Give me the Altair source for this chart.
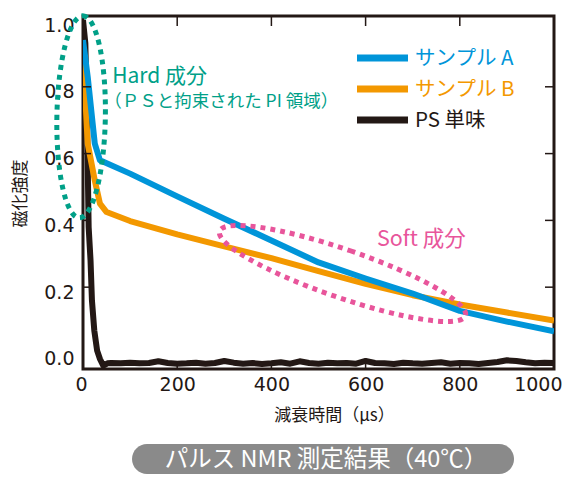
import altair as alt
import pandas as pd

# ---------------- data ----------------
series_names = ["サンプル A", "サンプル B", "PS 単味"]
series_colors = ["#0095d9", "#f39800", "#231815"]

a_x = [0, 10, 25, 36, 100, 200, 300, 400, 500, 600, 700, 800, 900, 1000]
a_y = [0.94, 0.83, 0.63, 0.58, 0.54, 0.472, 0.405, 0.34, 0.274, 0.226, 0.181, 0.129, 0.097, 0.068]

b_x = [0, 10, 25, 36, 50, 100, 200, 300, 400, 500, 600, 700, 800, 900, 1000]
b_y = [0.9, 0.63, 0.52, 0.45, 0.425, 0.398, 0.358, 0.322, 0.287, 0.248, 0.21, 0.176, 0.148, 0.124, 0.1]

ps_x = [0, 5, 9, 12, 16, 19, 24, 30, 36, 43, 52,
        60, 80, 100, 120, 140, 160, 180, 200, 220, 240, 260, 280, 300, 320, 340, 360, 380, 400,
        420, 440, 460, 480, 500, 520, 540, 560, 580, 600, 620, 640, 660, 680, 700, 720, 740, 760,
        780, 800, 820, 840, 860, 880, 900, 920, 940, 960, 980, 1000]
ps_y = [1.0, 0.93, 0.66, 0.38, 0.28, 0.16, 0.07, 0.01, -0.015, -0.035, -0.028,
        -0.027, -0.028, -0.026, -0.028, -0.027, -0.022, -0.027, -0.029, -0.028, -0.026, -0.029,
        -0.027, -0.021, -0.026, -0.029, -0.027, -0.03, -0.028, -0.025, -0.029, -0.022, -0.027,
        -0.029, -0.026, -0.028, -0.027, -0.029, -0.021, -0.027, -0.028, -0.03, -0.026, -0.028,
        -0.029, -0.027, -0.025, -0.029, -0.027, -0.028, -0.03, -0.027, -0.024, -0.019, -0.021,
        -0.025, -0.028, -0.026, -0.027]

x_axis_values = [0, 200, 400, 600, 800, 1000]
y_axis_values = [0.0, 0.2, 0.4, 0.6, 0.8, 1.0]
x_inner_ticks = [200, 400, 600, 800]
y_inner_ticks = [0.2, 0.4, 0.6, 0.8]

x_title = "減衰時間（μs）"
y_title = "磁化強度"
hard_label = "Hard 成分"
hard_sub = "（ＰＳと拘束された PI 領域）"
soft_label = "Soft 成分"
banner_text = "パルス NMR 測定結果（40℃）"

# ---------------- style ----------------
W, H = 471, 353
INK = "#231815"
TEAL = "#00a088"
PINK = "#e8559b"
JP = "Noto Sans CJK JP"
NUM = "DejaVu Sans"

xs = alt.Scale(domain=[0, 1000], nice=False, zero=False)
ys = alt.Scale(domain=[-0.045, 1.012], nice=False, zero=False)

x_axis = alt.Axis(values=x_axis_values, format="d", grid=False, ticks=False, domain=False,
                  labelFont=NUM, labelFontSize=19, labelColor=INK, labelPadding=6,
                  labelFlush=True, labelFlushOffset=8,
                  title=x_title, titleFont=JP, titleFontSize=17, titleFontWeight="normal",
                  titleColor=INK, titleX=251, titleY=46, titleBaseline="middle", titleAlign="center")
y_axis = alt.Axis(values=y_axis_values, format=".1f", grid=False, ticks=False, domain=False,
                  labelFont=NUM, labelFontSize=19, labelColor=INK, labelPadding=9, labelOffset=5,
                  title=y_title, titleFont=JP, titleFontSize=17, titleFontWeight="normal",
                  titleColor=INK, titleAngle=270, titleX=-63, titleY=177,
                  titleBaseline="middle", titleAlign="center")


def X(field="x"):
    return alt.X(f"{field}:Q", scale=xs, axis=x_axis)


def Y(field="y"):
    return alt.Y(f"{field}:Q", scale=ys, axis=y_axis)


def XD(v):
    return alt.XDatum(v, scale=xs, axis=x_axis, type="quantitative")


def YD(v):
    return alt.YDatum(v, scale=ys, axis=y_axis, type="quantitative")


def line_layer(xv, yv, color):
    df = pd.DataFrame({"x": xv, "y": yv})
    return alt.Chart(df).mark_line(color=color, strokeWidth=6, strokeJoin="round",
                                   strokeCap="butt", clip=True).encode(x=X(), y=Y())


ps_line = line_layer(ps_x, ps_y, series_colors[2])
b_line = line_layer(b_x, b_y, series_colors[1])
a_line = line_layer(a_x, a_y, series_colors[0])

# inner ticks on all four sides
ytick_df = pd.DataFrame({"y": y_inner_ticks})
xtick_df = pd.DataFrame({"x": x_inner_ticks})
tick_style = dict(color=INK, strokeWidth=1.5)
yt_left = alt.Chart(ytick_df).mark_rule(**tick_style).encode(y=Y(), x=alt.value(0), x2=alt.value(8))
yt_right = alt.Chart(ytick_df).mark_rule(**tick_style).encode(y=Y(), x=alt.value(W - 9), x2=alt.value(W))
xt_top = alt.Chart(xtick_df).mark_rule(**tick_style).encode(x=X(), y=alt.value(0), y2=alt.value(10))
xt_bot = alt.Chart(xtick_df).mark_rule(**tick_style).encode(x=X(), y=alt.value(H - 7), y2=alt.value(H))


def ellipse_path(a, b):
    k = 0.5523
    return (f"M0,{-b} C{k*a:.4f},{-b} {a},{-k*b:.4f} {a},0 "
            f"C{a},{k*b:.4f} {k*a:.4f},{b} 0,{b} "
            f"C{-k*a:.4f},{b} {-a},{k*b:.4f} {-a},0 "
            f"C{-a},{-k*b:.4f} {-k*a:.4f},{-b} 0,{-b} Z")


base = alt.Chart(pd.DataFrame({"d": [0]}))

hard_ellipse = base.mark_point(shape=ellipse_path(0.24, 1.0), filled=False, stroke=TEAL,
                               strokeWidth=5, strokeDash=[5, 5], size=202 ** 2, opacity=1,
                               angle=1).encode(x=XD(-4), y=YD(0.71))
soft_ellipse = base.mark_point(shape=ellipse_path(1.0, 0.185), filled=False, stroke=PINK,
                               strokeWidth=5, strokeDash=[5, 5], size=260 ** 2, opacity=1,
                               angle=19).encode(x=XD(551), y=YD(0.241))

hard_t1 = base.mark_text(text=hard_label, align="left", baseline="middle", font=JP, fontSize=21,
                         color=TEAL).encode(x=XD(62), y=YD(0.829))
hard_t2 = base.mark_text(text=hard_sub, align="left", baseline="middle", font=JP, fontSize=17.5,
                         color=TEAL).encode(x=XD(45), y=YD(0.754))
soft_t = base.mark_text(text=soft_label, align="left", baseline="middle", font=JP, fontSize=21.5,
                        color=PINK).encode(x=XD(624), y=YD(0.341))

# manual legend
legend_layers = []
for i, (name, col) in enumerate(zip(series_names, series_colors)):
    ly = 42 + 31 * i
    legend_layers.append(base.mark_rule(color=col, strokeWidth=7).encode(
        x=alt.value(274), x2=alt.value(325), y=alt.value(ly)))
    legend_layers.append(base.mark_text(text=name, align="left", baseline="middle", font=JP,
                                        fontSize=20.5, color=col).encode(
        x=alt.value(332), y=alt.value(ly + 1)))

# banner
banner_rect = base.mark_rect(color="#8a8a8a", cornerRadius=15).encode(
    x=alt.value(49), x2=alt.value(431), y=alt.value(428), y2=alt.value(458))
banner_t = base.mark_text(text=banner_text, align="center", baseline="middle", font=JP,
                          fontSize=23.5, color="white").encode(x=alt.value(243), y=alt.value(444))

chart = alt.layer(
    ps_line, b_line, a_line,
    yt_left, yt_right, xt_top, xt_bot,
    hard_ellipse, soft_ellipse, hard_t1, hard_t2, soft_t,
    *legend_layers, banner_rect, banner_t
).properties(
    width=W, height=H,
    autosize=alt.AutoSizeParams(type="none"),
    padding={"left": 75, "top": 8, "right": 23, "bottom": 106},
    background="white",
).configure_view(stroke=INK, strokeWidth=3)

chart.save("out.html", embed_options={"renderer": "svg", "actions": False})
